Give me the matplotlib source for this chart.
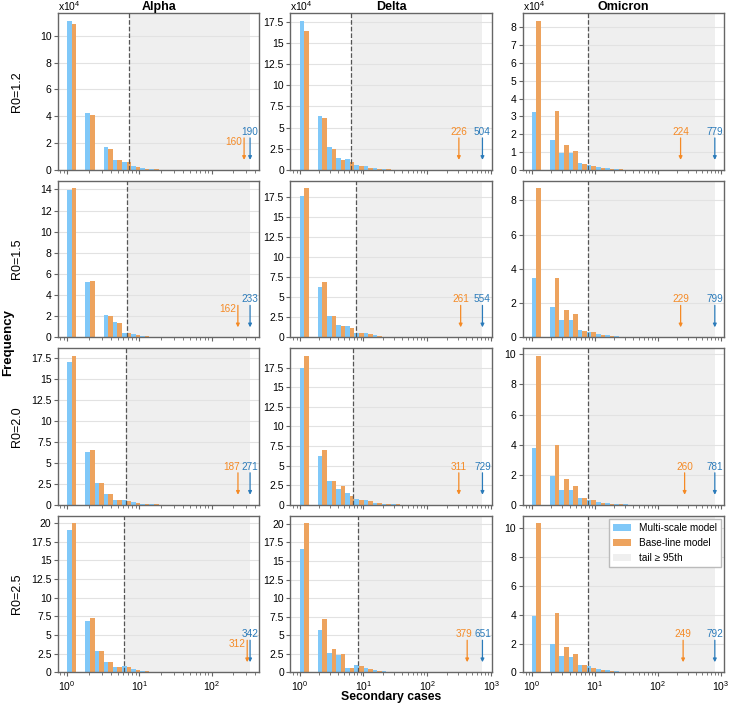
import numpy as np
import matplotlib
matplotlib.use("Agg")
import matplotlib.pyplot as plt
from matplotlib.patches import Patch
from matplotlib.ticker import MultipleLocator, FuncFormatter
import matplotlib.transforms as mtransforms

plt.rcParams['font.family'] = ['Liberation Sans', 'DejaVu Sans']
plt.rcParams['mathtext.fontset'] = 'custom'
plt.rcParams['mathtext.rm'] = 'Liberation Sans'

# ---------------- data (frequencies in units of 10^4) ----------------
variants = ['Alpha', 'Delta', 'Omicron']
r0_labels = ['R0=1.2', 'R0=1.5', 'R0=2.0', 'R0=2.5']
n_bins = 20

# maximum secondary cases (annotated by arrows)
alpha_max_multi = [190, 233, 271, 342]
alpha_max_base = [160, 162, 187, 312]
delta_max_multi = [504, 554, 729, 651]
delta_max_base = [226, 261, 311, 379]
omicron_max_multi = [779, 799, 781, 792]
omicron_max_base = [224, 229, 260, 249]

# 95th percentile thresholds (dashed lines)
alpha_p95 = [7.3, 6.8, 6.6, 6.1]
delta_p95 = [6.4, 7.6, 6.9, 8.3]
omicron_p95 = [7.7, 7.7, 7.7, 7.7]

# histogram counts per log bin (x10^4)
alpha_multi_12 = [11.1, 0, 4.25, 0, 1.7, 0.78, 0.6, 0.28, 0.12, 0.06, 0.03, 0.02, 0.01, 0.005]
alpha_base_12 = [10.85, 0, 4.07, 0, 1.6, 0.72, 0.58, 0.25, 0.1, 0.05, 0.03, 0.015, 0.008]
alpha_multi_15 = [13.97, 0, 5.25, 0, 2.09, 1.47, 0.42, 0.3, 0.15, 0.07, 0.04, 0.02, 0.01]
alpha_base_15 = [14.1, 0, 5.34, 0, 2.06, 1.4, 0.4, 0.28, 0.12, 0.06, 0.03, 0.015, 0.008]
alpha_multi_20 = [17.1, 0, 6.3, 2.6, 1.25, 0.6, 0.55, 0.3, 0.15, 0.08, 0.04, 0.02, 0.01]
alpha_base_20 = [17.8, 0, 6.6, 2.6, 1.25, 0.55, 0.5, 0.25, 0.12, 0.06, 0.03, 0.015, 0.008]
alpha_multi_25 = [19.07, 0, 6.93, 2.84, 1.33, 0.75, 0.8, 0.45, 0.2, 0.1, 0.05, 0.03, 0.01]
alpha_base_25 = [20.0, 0, 7.33, 2.93, 1.33, 0.7, 0.7, 0.35, 0.18, 0.08, 0.04, 0.02, 0.01]

delta_multi_12 = [17.6, 0, 6.35, 2.75, 1.4, 1.35, 0.55, 0.5, 0.2, 0.12, 0.06, 0.03, 0.015, 0.008]
delta_base_12 = [16.35, 0, 6.1, 2.45, 1.15, 0.95, 0.45, 0.3, 0.15, 0.08, 0.04, 0.02, 0.01]
delta_multi_15 = [17.6, 0, 6.3, 2.7, 1.5, 1.4, 0.6, 0.5, 0.25, 0.12, 0.06, 0.03, 0.015]
delta_base_15 = [18.6, 0, 6.9, 2.7, 1.4, 1.2, 0.6, 0.4, 0.2, 0.1, 0.05, 0.02, 0.01]
delta_multi_20 = [17.5, 0, 6.2, 3.0, 2.0, 1.5, 0.7, 0.6, 0.3, 0.15, 0.07, 0.03, 0.015]
delta_base_20 = [19.0, 0, 7.0, 3.0, 2.4, 1.2, 0.6, 0.5, 0.25, 0.12, 0.06, 0.03, 0.01]
delta_multi_25 = [16.65, 0, 5.76, 2.63, 2.32, 0.58, 0.94, 0.55, 0.3, 0.15, 0.07, 0.03, 0.015]
delta_base_25 = [20.1, 0, 7.23, 3.08, 2.41, 0.58, 0.8, 0.45, 0.2, 0.1, 0.05, 0.02, 0.01]

omicron_multi_12 = [3.23, 0, 1.68, 0.98, 0.98, 0.42, 0.3, 0.18, 0.12, 0.06, 0.03, 0.02, 0.01]
omicron_base_12 = [8.35, 0, 3.33, 1.42, 1.07, 0.35, 0.22, 0.12, 0.08, 0.04, 0.02, 0.01]
omicron_multi_15 = [3.45, 0, 1.8, 1.0, 1.0, 0.45, 0.3, 0.2, 0.12, 0.06, 0.03, 0.02, 0.01]
omicron_base_15 = [8.7, 0, 3.45, 1.6, 1.35, 0.4, 0.3, 0.15, 0.08, 0.04, 0.02, 0.01]
omicron_multi_20 = [3.75, 0, 1.9, 1.0, 1.0, 0.45, 0.35, 0.2, 0.12, 0.06, 0.03, 0.02]
omicron_base_20 = [9.9, 0, 3.95, 1.7, 1.25, 0.45, 0.3, 0.15, 0.08, 0.04, 0.02, 0.01]
omicron_multi_25 = [3.9, 0, 1.96, 1.12, 1.05, 0.5, 0.45, 0.25, 0.15, 0.08, 0.04, 0.02]
omicron_base_25 = [10.35, 0, 4.1, 1.75, 1.3, 0.48, 0.3, 0.18, 0.1, 0.05, 0.03, 0.01]

multi_counts = {
    'Alpha': [alpha_multi_12, alpha_multi_15, alpha_multi_20, alpha_multi_25],
    'Delta': [delta_multi_12, delta_multi_15, delta_multi_20, delta_multi_25],
    'Omicron': [omicron_multi_12, omicron_multi_15, omicron_multi_20, omicron_multi_25],
}
base_counts = {
    'Alpha': [alpha_base_12, alpha_base_15, alpha_base_20, alpha_base_25],
    'Delta': [delta_base_12, delta_base_15, delta_base_20, delta_base_25],
    'Omicron': [omicron_base_12, omicron_base_15, omicron_base_20, omicron_base_25],
}
max_multi = {'Alpha': alpha_max_multi, 'Delta': delta_max_multi, 'Omicron': omicron_max_multi}
max_base = {'Alpha': alpha_max_base, 'Delta': delta_max_base, 'Omicron': omicron_max_base}
p95 = {'Alpha': alpha_p95, 'Delta': delta_p95, 'Omicron': omicron_p95}

# ---------------- style ----------------
BLUE_BAR = '#80c8f8'
ORANGE_BAR = '#eda35e'
BLUE_TXT = '#2b7bba'
ORANGE_TXT = '#f58a25'
SPAN = '#efefef'
SPINE = '#666666'
label_modes = {'Alpha': ['low', 'low', 'side', 'low'],
               'Delta': ['center', 'center', 'center', 'side'],
               'Omicron': ['center'] * 4}
ysteps = {'Alpha': [2, 2, 2.5, 2.5], 'Delta': [2.5] * 4, 'Omicron': [1, 2, 2, 2]}
FS = 7.5
AFS = 7.2

BOTTOM = 0.049
TOP = 0.981
fig, axes = plt.subplots(4, 3, figsize=(7.29, 7.07), dpi=100)
fig.subplots_adjust(left=0.0796, right=0.9931, top=TOP, bottom=BOTTOM,
                    wspace=0.155, hspace=0.069)

fmt = FuncFormatter(lambda v, p: f'{v:g}')

for c, var in enumerate(variants):
    cmax = max(max(max_multi[var]), max(max_base[var]))
    edges = np.logspace(0, np.log10(cmax), n_bins + 1)
    left = edges[:-1]
    right = edges[1:]
    mid = np.sqrt(left * right)
    lo, hi = 0.0, np.log10(cmax)
    m = 0.05 * (hi - lo)
    for r in range(4):
        ax = axes[r, c]
        ax.set_xscale('log')
        hm = np.zeros(n_bins)
        hb = np.zeros(n_bins)
        vm = multi_counts[var][r]
        vb = base_counts[var][r]
        hm[:len(vm)] = vm
        hb[:len(vb)] = vb
        ax.axvspan(p95[var][r], cmax, color=SPAN, zorder=0, lw=0)
        ax.bar(left, hm, width=mid - left, align='edge', color=BLUE_BAR, lw=0, zorder=2)
        ax.bar(mid, hb, width=right - mid, align='edge', color=ORANGE_BAR, lw=0, zorder=2)
        ax.axvline(p95[var][r], color='#555555', ls='--', lw=0.9, zorder=3)
        ax.set_xlim(10 ** (lo - m), 10 ** (hi + m))
        ymax = max(hm.max(), hb.max())
        ax.set_ylim(0, ymax * 1.05)
        ax.yaxis.set_major_locator(MultipleLocator(ysteps[var][r]))
        ax.yaxis.set_major_formatter(fmt)
        ax.grid(axis='y', color='#e2e2e2', lw=0.8, zorder=1)
        ax.set_axisbelow(True)
        for s in ax.spines.values():
            s.set_color(SPINE)
            s.set_linewidth(1.0)
        ax.tick_params(axis='both', which='both', direction='out', color=SPINE,
                       labelsize=FS, pad=1.5)
        ax.tick_params(which='major', length=3.2)
        ax.tick_params(which='minor', length=1.8)
        if r < 3:
            ax.tick_params(axis='x', labelbottom=False)

        # arrows: blue at the column's upper end, orange scaled by log-ratio
        trans = ax.get_xaxis_transform()
        bm = max_multi[var][r]
        bb = max_base[var][r]
        xb = cmax
        xo = cmax ** (np.log10(bb) / np.log10(bm))
        for xv, col in [(xb, BLUE_TXT), (xo, ORANGE_TXT)]:
            ax.annotate('', xy=(xv, 0.065), xytext=(xv, 0.205), xycoords=trans,
                        textcoords=trans,
                        arrowprops=dict(arrowstyle='-|>', color=col, lw=0.9,
                                        mutation_scale=5, shrinkA=0, shrinkB=0))
        ax.text(xb, 0.212, str(bm), transform=trans, ha='center', va='bottom',
                color=BLUE_TXT, fontsize=AFS, zorder=5)
        mode = label_modes[var][r]
        if mode == 'center':
            ax.text(xo, 0.212, str(bb), transform=trans, ha='center', va='bottom',
                    color=ORANGE_TXT, fontsize=AFS, zorder=5)
        elif mode == 'low':
            off = mtransforms.offset_copy(trans, fig=fig, x=-1.5, y=0, units='points')
            ax.text(xo, 0.18, str(bb), transform=off, ha='right', va='center',
                    color=ORANGE_TXT, fontsize=AFS, zorder=5)
        else:
            off = mtransforms.offset_copy(trans, fig=fig, x=-7.4, y=0, units='points')
            ax.text(xb, 0.212, str(bb), transform=off, ha='right', va='bottom',
                    color=ORANGE_TXT, fontsize=AFS, zorder=5)

        if r == 0:
            ax.set_title(var, fontsize=9, fontweight='bold', pad=2)
            ax.text(0.0, 1.0, r'x10$^4$', transform=ax.transAxes, ha='left',
                    va='bottom', fontsize=FS)
        if c == 0:
            ax.set_ylabel(r0_labels[r], fontsize=9)
            ax.yaxis.set_label_coords(-0.175, 0.5)

axes[3, 1].set_xlabel('Secondary cases', fontsize=8.8, fontweight='bold')
axes[3, 1].xaxis.set_label_coords(0.5, -0.12)
fig.text(0.011, (TOP + BOTTOM) / 2, 'Frequency', rotation=90, ha='center', va='center',
         fontsize=9.5, fontweight='bold')

handles = [Patch(facecolor=BLUE_BAR, label='Multi-scale model'),
           Patch(facecolor=ORANGE_BAR, label='Base-line model'),
           Patch(facecolor=SPAN, label='tail ≥ 95th')]
axes[3, 2].legend(handles=handles, loc='upper right', fontsize=7.2, frameon=True,
                  fancybox=False, edgecolor='#bbbbbb', framealpha=1,
                  borderaxespad=0.3, handlelength=1.8)

fig.savefig('out.png', dpi=100)
